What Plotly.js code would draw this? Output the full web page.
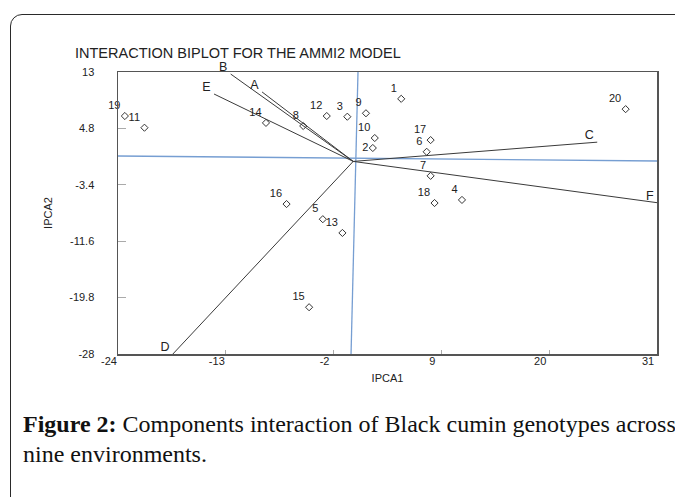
<!DOCTYPE html>
<html>
<head>
<meta charset="utf-8">
<script src="https://cdn.plot.ly/plotly-3.0.1.min.js"></script>
<style>
  html, body { margin: 0; padding: 0; background: #fff; overflow: hidden; }
  #chart { position: absolute; left: 0; top: 0; width: 675px; height: 497px; }
  #frame { position: absolute; left: 10px; top: 14px; width: 720px; height: 560px;
           border: 1.5px solid #2a2a2a; border-top-left-radius: 12px; pointer-events: none; }
</style>
</head>
<body>
<div id="chart"></div>
<div id="frame"></div>
<script>
// Genotype scores (IPCA1, IPCA2)
const genotypes = ['1','2','3','4','5','6','7','8','9','10','11','12','13','14','15','16','17','18','19','20'];
const ipca1 = [4.9, 2.0, -0.6, 11.1, -3.1, 7.5, 7.9, -5.1, 1.3, 2.2, -21.3, -2.7, -1.1, -8.9, -4.5, -6.8, 7.9, 8.3, -23.3, 27.8];
const ipca2 = [9.1, 1.95, 6.5, -5.6, -8.4, 1.4, -2.1, 5.15, 7.0, 3.4, 4.9, 6.6, -10.4, 5.6, -21.2, -6.2, 3.1, -6.05, 6.6, 7.6];

// Environment vector endpoints
const envNames = ['A', 'B', 'C', 'D', 'E', 'F'];
const envX = [-9.3, -12.5, 24.9, -18.4, -14.2, 31];
const envY = [10.1, 12.7, 2.8, -28, 9.8, -6.0];

// Reference (origin) lines as drawn in the figure
const hLineX = [-24, 31];
const hLineY = [0.79, 0.06];
const vLineX = [0.49, -0.22];
const vLineY = [13, -28];

// Axis ticks
const xTickVals = [-24, -13, -2, 9, 20, 31];
const xTickText = ['-24', '-13', '-2', '9', '20', '31'];
const yTickVals = [13, 4.8, -3.4, -11.6, -19.8, -28];
const yTickText = ['13', '4.8', '-3.4', '-11.6', '-19.8', '-28'];

const blue = 'rgb(118,158,210)';
const dark = '#3a3a3a';
const sans = 'Liberation Sans, Arial, sans-serif';

const traces = [];
traces.push({ x: hLineX, y: hLineY, mode: 'lines', line: { color: blue, width: 1.3 }, hoverinfo: 'skip', showlegend: false });
traces.push({ x: vLineX, y: vLineY, mode: 'lines', line: { color: blue, width: 1.3 }, hoverinfo: 'skip', showlegend: false });

envNames.forEach((n, i) => {
  traces.push({ x: [0, envX[i]], y: [0, envY[i]], mode: 'lines', line: { color: dark, width: 1 },
                hoverinfo: 'skip', showlegend: false, cliponaxis: false });
});
traces.push({ x: envX, y: envY, text: envNames, texttemplate: '%{text}\u00a0', mode: 'text', textposition: 'top left',
              textfont: { family: sans, size: 12.5, color: '#222' },
              showlegend: false, cliponaxis: false });

const labelPos = genotypes.map(g => (g === '2' ? 'middle left' : 'top left'));
traces.push({ x: ipca1, y: ipca2, text: genotypes, mode: 'markers+text', textposition: labelPos,
              marker: { symbol: 'diamond-open', size: 5.5, color: '#333', line: { width: 1, color: '#333' } },
              textfont: { family: sans, size: 11, color: '#222' },
              showlegend: false, cliponaxis: false });

const layout = {
  width: 675, height: 497,
  margin: { l: 118, r: 18, t: 72, b: 143 },
  paper_bgcolor: 'rgba(0,0,0,0)', plot_bgcolor: '#fff',
  showlegend: false,
  title: { text: 'INTERACTION BIPLOT FOR THE AMMI2 MODEL', xref: 'container', yref: 'container',
           x: 75 / 675, xanchor: 'left', y: 1 - 53 / 497, yanchor: 'middle',
           font: { family: sans, size: 14.5, color: '#222' } },
  xaxis: {
    range: [-24, 31], showgrid: false, zeroline: false,
    showline: true, mirror: true, linecolor: '#555', linewidth: 1.5,
    tickmode: 'array', tickvals: xTickVals, ticktext: xTickText,
    ticks: 'inside', ticklen: 4, tickcolor: '#aaa', tickwidth: 1,
    ticklabelshift: -9, ticklabelstandoff: -4,
    tickfont: { family: sans, size: 11, color: '#222' },
    title: { text: 'IPCA1', standoff: 8, font: { family: sans, size: 11, color: '#222' } }
  },
  yaxis: {
    range: [-28, 13], showgrid: false, zeroline: false,
    showline: true, mirror: true, linecolor: '#555', linewidth: 1.5,
    tickmode: 'array', tickvals: yTickVals, ticktext: yTickText,
    ticks: 'inside', ticklen: 8, tickcolor: '#aaa', tickwidth: 1,
    ticklabelstandoff: 20,
    tickfont: { family: sans, size: 11, color: '#222' },
    title: { text: 'IPCA2', standoff: 14, font: { family: sans, size: 11, color: '#222' } }
  },
  annotations: [
    { xref: 'paper', yref: 'paper', x: (21 - 118) / 539, y: (354 - 424) / 282, xanchor: 'left', yanchor: 'middle',
      showarrow: false, align: 'left',
      text: '<b>Figure 2:</b> Components interaction of Black cumin genotypes across',
      font: { family: 'Liberation Serif, Times New Roman, serif', size: 24, color: '#111' } },
    { xref: 'paper', yref: 'paper', x: (21 - 118) / 539, y: (354 - 454) / 282, xanchor: 'left', yanchor: 'middle',
      showarrow: false, align: 'left',
      text: 'nine environments.',
      font: { family: 'Liberation Serif, Times New Roman, serif', size: 24, color: '#111' } }
  ]
};

Plotly.newPlot('chart', traces, layout, { staticPlot: true, displayModeBar: false });
</script>
</body>
</html>
